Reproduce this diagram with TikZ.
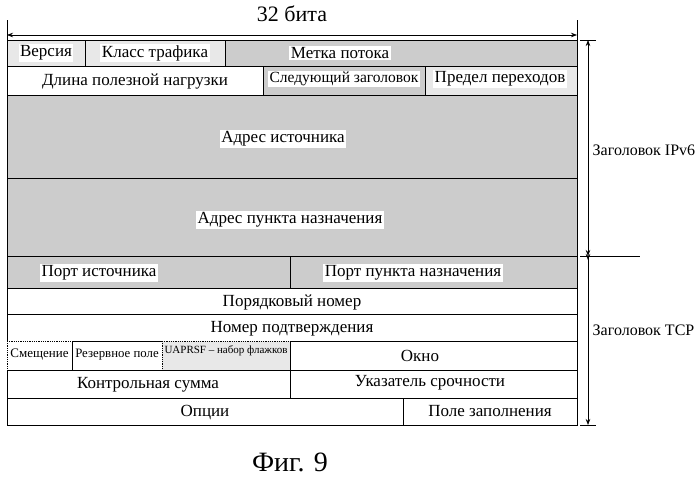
\documentclass[tikz,border=0pt]{standalone}
\usepackage{fontspec}
\setmainfont{Liberation Serif}
\usetikzlibrary{arrows.meta}
\begin{document}
\begin{tikzpicture}[x=1pt,y=-1pt,
  cellw/.style={draw=black,line width=0.8pt,fill=white},
  cellg/.style={draw=black,line width=0.8pt,fill=gray!40},
  cellh/.style={draw=black,line width=0.8pt,fill=gray!18},
  lab/.style={font=\fontsize{17}{19}\selectfont,inner sep=1.5pt},
  labg/.style={lab,fill=white},
  dim/.style={line width=0.7pt}]
\useasboundingbox (0,0) rectangle (700,479);
% row 1
\path[cellh] (7,40) rectangle (85,66); \node[labg] (ver) at (46,53) {Версия};
\path[cellh] (85,40) rectangle (225,66); \node[labg] (cls) at (155,53) {Класс трафика};
\path[cellg] (225,40) rectangle (577,66); \node[labg] (flow) at (340,53) {Метка потока};
% row 2
\path[cellw] (7,66) rectangle (263,95); \node[lab] (len) at (135,82) {Длина полезной нагрузки};
\path[cellg] (263,66) rectangle (425,95); \node[labg,font=\fontsize{15.5}{17}\selectfont] (nxt) at (344,79) {Следующий заголовок};
\path[cellh] (425,66) rectangle (577,95); \node[labg] (hop) at (500,79) {Предел переходов};
% addresses
\path[cellg] (7,95) rectangle (577,178); \node[labg] (src) at (283,139) {Адрес источника};
\path[cellg] (7,178) rectangle (577,256); \node[labg] (dst) at (290,220) {Адрес пункта назначения};
% ports
\path[cellg] (7,256) rectangle (290,288); \node[labg] (sp) at (99,273) {Порт источника};
\path[cellg] (290,256) rectangle (577,288); \node[labg] (dp) at (413,273) {Порт пункта назначения};
% seq ack
\path[cellw] (7,288) rectangle (577,314); \node[lab] (seq) at (292,302) {Порядковый номер};
\path[cellw] (7,314) rectangle (577,341); \node[lab] (ack) at (292,329) {Номер подтверждения};
% flags row
\path[cellw,densely dotted] (7,341) rectangle (72,370); \node[lab,font=\fontsize{13}{15}\selectfont] (off) at (39.5,355) {Смещение};
\path[cellw] (72,341) rectangle (162,370); \node[lab,font=\fontsize{12.8}{15}\selectfont] (res) at (117,355) {Резервное поле};
\path[cellh,densely dotted] (162,341) rectangle (290,370); \node[lab,font=\fontsize{11}{12}\selectfont] (flg) at (226,351) {UAPRSF – набор флажков};
\path[cellw] (290,341) rectangle (577,370); \node[lab] (win) at (420,356) {Окно};
% checksum
\path[cellw] (7,370) rectangle (290,398); \node[lab] (chk) at (148,385) {Контрольная сумма};
\path[cellw] (290,370) rectangle (577,398); \node[lab] (urg) at (430,383) {Указатель срочности};
% options
\path[cellw] (7,398) rectangle (403,425); \node[lab] (opt) at (205,413) {Опции};
\path[cellw] (403,398) rectangle (577,425); \node[lab] (pad) at (490,411) {Поле заполнения};
% top dimension
\coordinate (tl) at (7,35); \coordinate (tr) at (577,35);
\draw[dim] (7,20) -- (7,40); \draw[dim] (577,20) -- (577,40);
\draw[dim,{Stealth[length=6pt]}-{Stealth[length=6pt]}] (tl) -- (tr);
\node[font=\fontsize{22}{24}\selectfont] (bits) at (292,14) {32 бита};
% right dimension
\coordinate (rt) at (588,40); \coordinate (rm) at (588,256); \coordinate (rb) at (588,425);
\draw[dim] (580,40) -- (596,40); \draw[dim] (580,256) -- (640,256); \draw[dim] (580,425) -- (596,425);
\draw[dim,{Stealth[length=6pt]}-{Stealth[length=6pt]}] (rt) -- (rm);
\draw[dim,-{Stealth[length=6pt]}] (rm) -- (rb);
\draw[dim,-{Stealth[length=6pt]}] (rm) -- (588,260);
\node[lab,font=\fontsize{16}{18}\selectfont,anchor=west] (ipv6) at (591,150) {Заголовок IPv6};
\node[lab,font=\fontsize{16}{18}\selectfont,anchor=west] (tcp) at (591,330) {Заголовок TCP};
\node[font=\fontsize{28}{30}\selectfont] (fig) at (290,462) {Фиг. 9};
\end{tikzpicture}
\end{document}
